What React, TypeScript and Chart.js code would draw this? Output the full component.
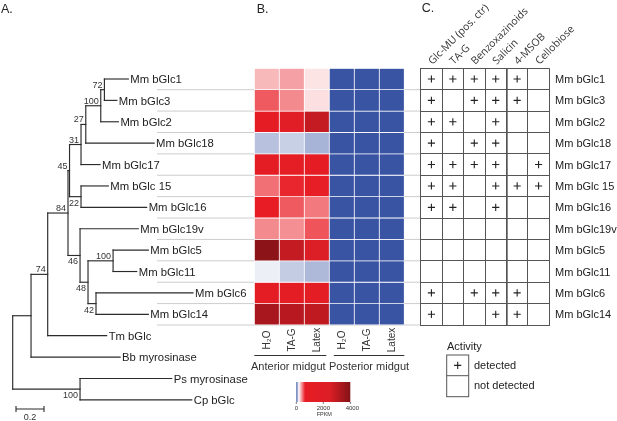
import React, { useEffect, useRef } from 'react';
import { Chart, registerables } from 'chart.js';
Chart.register(...registerables);

const W = 617;
const H = 421;
const FONT = "'Liberation Sans', Arial, sans-serif";
const HEAD_FONT = "'Open Sans', 'Liberation Sans', sans-serif";

// ---------------- data ----------------
const leafNames = ['Mm bGlc1', 'Mm bGlc3', 'Mm bGlc2', 'Mm bGlc18', 'Mm bGlc17', 'Mm bGlc 15', 'Mm bGlc16', 'Mm bGlc19v', 'Mm bGlc5', 'Mm bGlc11', 'Mm bGlc6', 'Mm bGlc14', 'Tm bGlc', 'Bb myrosinase', 'Ps myrosinase', 'Cp bGlc'];
const leafParents = ['N72', 'N72', 'N100a', 'N27', 'N31', 'N22', 'N22', 'N46', 'N100b', 'N100b', 'N42', 'N42', 'N74', 'NA', 'N100c', 'N100c'];
const leafBranches = [0.171, 0.089, 0.126, 0.488, 0.136, 0.195, 0.469, 0.416, 0.252, 0.169, 0.693, 0.374, 0.421, 0.636, 0.655, 0.798];

const nodeIds = ['root', 'NA', 'N74', 'N84', 'N45', 'N31', 'N27', 'N100a', 'N72', 'N22', 'N46', 'N48', 'N100b', 'N42', 'N100c'];
const nodeParents = ['', 'root', 'NA', 'N74', 'N84', 'N45', 'N31', 'N27', 'N100a', 'N45', 'N84', 'N46', 'N48', 'N48', 'root'];
const nodeBranches = [0, 0.131, 0.119, 0.145, 0.011, 0.082, 0.034, 0.107, 0.026, 0.082, 0.086, 0.057, 0.179, 0.057, 0.481];
const nodeSupport: (number | null)[] = [null, null, 74, 84, 45, 31, 27, 100, 72, 22, 46, 48, 100, 42, 100];
const supportBelow = [false, false, false, false, false, false, false, false, false, true, true, true, false, true, true];
const scaleBarValue = 0.2;
const scaleBarLabel = '0.2';

const conditions = ['H\u2082O', 'TA-G', 'Latex', 'H\u2082O', 'TA-G', 'Latex'];
const tissues = ['Anterior midgut', 'Posterior midgut'];
const heatRows = leafNames.slice(0, 12);
const fpkmAnterior = [
  [325, 376, 236],
  [522, 422, 244],
  [1100, 1700, 2900],
  [115, 130, 100],
  [1200, 1150, 1050],
  [476, 630, 645],
  [700, 522, 455],
  [422, 410, 534],
  [3833, 2900, 2450],
  [163, 126, 106],
  [1300, 1250, 1200],
  [3367, 3100, 2967],
];
const fpkmPosterior = [
  [0, 0, 0], [0, 0, 0], [0, 0, 0], [0, 0, 0], [0, 0, 0], [0, 0, 0],
  [0, 0, 0], [0, 0, 0], [0, 0, 0], [0, 0, 0], [0, 0, 0], [0, 0, 0],
];
const colorStops = [0, 180, 650, 2500, 4000];
const stopColors = [[58, 84, 164], [255, 255, 255], [232, 28, 36], [220, 30, 38], [130, 18, 22]];
const colorbarTicks = [0, 2000, 4000];
const colorbarUnit = 'FPKM';

const substrates = ['Glc-MU (pos. ctr)', 'TA-G', 'Benzoxazinoids', 'Salicin', '4-MSOB', 'Cellobiose'];
const activity = [
  [1, 1, 1, 1, 1, 0],
  [1, 0, 1, 1, 1, 0],
  [1, 1, 0, 1, 0, 0],
  [1, 0, 1, 1, 0, 0],
  [1, 1, 1, 1, 0, 1],
  [1, 1, 0, 1, 1, 1],
  [1, 1, 0, 1, 0, 0],
  [0, 0, 0, 0, 0, 0],
  [0, 0, 0, 0, 0, 0],
  [0, 0, 0, 0, 0, 0],
  [1, 0, 1, 1, 1, 0],
  [1, 0, 0, 1, 1, 0],
];
const legendTitle = 'Activity';
const legendItems = ['detected', 'not detected'];

// ---------------- layout ----------------
const ROW_TOP = 68.3;
const ROW_BOTTOM = 325;
const ROW_H = (ROW_BOTTOM - ROW_TOP) / heatRows.length;
const TREE_ROOT_PX = 12.7;
const TREE_PX_PER_UNIT = 140;
const HEAT_L = 254.3;
const HEAT_R = 404.3;
const TABLE_L = 420.7;
const TABLE_R = 549.3;
const SEP_L = 157;
const SEP_R = 421;

type P = { x: number; y: number };

function layoutTree() {
  const parent: Record<string, string> = {};
  const branch: Record<string, number> = {};
  const kids: Record<string, string[]> = {};
  nodeIds.forEach((id, i) => {
    kids[id] = [];
    parent[id] = nodeParents[i];
    branch[id] = nodeBranches[i];
  });
  leafNames.forEach((_, i) => {
    const id = 'leaf' + i;
    parent[id] = leafParents[i];
    branch[id] = leafBranches[i];
  });
  Object.keys(parent).forEach((id) => {
    if (parent[id]) kids[parent[id]].push(id);
  });
  const X: Record<string, number> = {};
  const Y: Record<string, number> = {};
  const getX = (id: string): number => {
    if (X[id] !== undefined) return X[id];
    X[id] = parent[id] ? getX(parent[id]) + branch[id] : 0;
    return X[id];
  };
  const getY = (id: string): number => {
    if (Y[id] !== undefined) return Y[id];
    if (id.startsWith('leaf')) {
      Y[id] = +id.slice(4) + 0.5;
      return Y[id];
    }
    const ys = kids[id].map(getY);
    Y[id] = (Math.min(...ys) + Math.max(...ys)) / 2;
    return Y[id];
  };
  Object.keys(parent).forEach((id) => {
    getX(id);
    getY(id);
  });
  const edges: P[][] = [];
  Object.keys(parent).forEach((id) => {
    if (parent[id]) edges.push([{ x: X[parent[id]], y: Y[id] }, { x: X[id], y: Y[id] }]);
    if (kids[id] && kids[id].length) {
      const ys = kids[id].map((k) => Y[k]);
      edges.push([{ x: X[id], y: Math.min(...ys) }, { x: X[id], y: Math.max(...ys) }]);
    }
  });
  return { X, Y, edges };
}

function fpkmColor(v: number): string {
  for (let i = 1; i < colorStops.length; i++) {
    if (v <= colorStops[i]) {
      const t = (v - colorStops[i - 1]) / (colorStops[i] - colorStops[i - 1]);
      const a = stopColors[i - 1];
      const b = stopColors[i];
      const c = a.map((av, k) => Math.round(av + (b[k] - av) * t));
      return `rgb(${c[0]},${c[1]},${c[2]})`;
    }
  }
  const l = stopColors[stopColors.length - 1];
  return `rgb(${l[0]},${l[1]},${l[2]})`;
}

const yMin = -ROW_TOP / ROW_H;
const yMax = (H - ROW_TOP) / ROW_H;
const txMin = -TREE_ROOT_PX / TREE_PX_PER_UNIT;
const txMax = (W - TREE_ROOT_PX) / TREE_PX_PER_UNIT;
const pxToTree = (px: number) => (px - TREE_ROOT_PX) / TREE_PX_PER_UNIT;

// ---------------- tree chart ----------------
function treeConfig(): any {
  const L = layoutTree();
  const datasets: any[] = [];
  L.edges.forEach((e) =>
    datasets.push({
      data: e,
      showLine: true,
      borderColor: '#2b2b2b',
      borderWidth: 1.15,
      borderCapStyle: 'square',
      pointRadius: 0,
      fill: false,
    })
  );
  for (let k = 1; k <= heatRows.length; k++) {
    datasets.push({
      data: [{ x: pxToTree(SEP_L), y: k }, { x: pxToTree(SEP_R), y: k }],
      showLine: true,
      borderColor: '#cdcdcd',
      borderWidth: 1,
      pointRadius: 0,
      fill: false,
    });
  }
  const plugin = {
    id: 'treeText',
    afterDraw(chart: any) {
      const ctx = chart.ctx;
      const xs = chart.scales.x;
      const ys = chart.scales.y;
      ctx.save();
      ctx.fillStyle = '#222';
      ctx.font = `12.5px ${FONT}`;
      ctx.textAlign = 'left';
      ctx.textBaseline = 'alphabetic';
      ctx.fillText('A.', 1, 13.3);
      ctx.font = `11.3px ${FONT}`;
      ctx.textBaseline = 'middle';
      leafNames.forEach((n, i) => {
        const id = 'leaf' + i;
        ctx.fillText(n, xs.getPixelForValue(L.X[id]) + 2, ys.getPixelForValue(L.Y[id]) + 1);
      });
      ctx.font = `9px ${FONT}`;
      ctx.fillStyle = '#333';
      ctx.textAlign = 'right';
      nodeIds.forEach((id, i) => {
        const s = nodeSupport[i];
        if (s == null) return;
        const px = xs.getPixelForValue(L.X[id]) - 2;
        const py = ys.getPixelForValue(L.Y[id]);
        if (supportBelow[i]) {
          ctx.textBaseline = 'top';
          ctx.fillText(String(s), px, py + 2);
        } else {
          ctx.textBaseline = 'alphabetic';
          ctx.fillText(String(s), px, py - 2);
        }
      });
      // scale bar
      const x0 = 16;
      const x1 = x0 + (xs.getPixelForValue(scaleBarValue) - xs.getPixelForValue(0));
      const yb = 409;
      ctx.strokeStyle = '#2b2b2b';
      ctx.lineWidth = 1.1;
      ctx.beginPath();
      ctx.moveTo(x0, yb);
      ctx.lineTo(x1, yb);
      ctx.moveTo(x0, yb - 3);
      ctx.lineTo(x0, yb + 3);
      ctx.moveTo(x1, yb - 3);
      ctx.lineTo(x1, yb + 3);
      ctx.stroke();
      ctx.textAlign = 'center';
      ctx.textBaseline = 'middle';
      ctx.fillText(scaleBarLabel, (x0 + x1) / 2, 418);
      ctx.restore();
    },
  };
  return {
    type: 'scatter',
    data: { datasets },
    options: {
      animation: false,
      responsive: false,
      events: [],
      layout: { padding: 0 },
      plugins: { legend: { display: false }, tooltip: { enabled: false } },
      scales: {
        x: { type: 'linear', min: txMin, max: txMax, display: false },
        y: { type: 'linear', min: yMin, max: yMax, reverse: true, display: false },
      },
    },
    plugins: [plugin],
  };
}

// ---------------- heatmap chart ----------------
function heatConfig(): any {
  const datasets = heatRows.map((name, r) => {
    const vals = [...fpkmAnterior[r], ...fpkmPosterior[r]];
    return {
      label: name,
      data: vals.map(() => 1),
      backgroundColor: vals.map(fpkmColor),
      borderColor: '#ffffff',
      borderWidth: 0.75,
      borderSkipped: false,
      barPercentage: 1,
      categoryPercentage: 1,
      stack: 'rows',
    };
  });
  const plugin = {
    id: 'heatText',
    afterDraw(chart: any) {
      const ctx = chart.ctx;
      const xs = chart.scales.x;
      const area = chart.chartArea;
      ctx.save();
      ctx.fillStyle = '#222';
      ctx.font = `12.5px ${FONT}`;
      ctx.textAlign = 'left';
      ctx.textBaseline = 'alphabetic';
      ctx.fillText('B.', 256.7, 12.7);
      // column labels
      ctx.font = `10px ${FONT}`;
      ctx.fillStyle = '#333';
      conditions.forEach((c, i) => {
        ctx.save();
        ctx.translate(xs.getPixelForValue(i), 340);
        ctx.rotate(-Math.PI / 2);
        ctx.textAlign = 'center';
        ctx.textBaseline = 'middle';
        ctx.fillText(c, 0, 0);
        ctx.restore();
      });
      // group lines + labels
      const mid = (xs.getPixelForValue(2) + xs.getPixelForValue(3)) / 2;
      const groups = [
        [area.left, mid - 3],
        [mid + 4.5, area.right],
      ];
      ctx.strokeStyle = '#333';
      ctx.lineWidth = 1;
      ctx.font = `11px ${FONT}`;
      ctx.textAlign = 'center';
      ctx.textBaseline = 'middle';
      groups.forEach((g, i) => {
        ctx.beginPath();
        ctx.moveTo(g[0], 355.5);
        ctx.lineTo(g[1], 355.5);
        ctx.stroke();
        ctx.fillText(tissues[i], (g[0] + g[1]) / 2 - (i === 0 ? 2 : 0), 366.5);
      });
      // colour bar
      const cbL = 296.3;
      const cbR = 350.3;
      const cbT = 382;
      const cbB = 402;
      const maxV = colorStops[colorStops.length - 1];
      const grad = ctx.createLinearGradient(cbL, 0, cbR, 0);
      colorStops.forEach((s: number) => grad.addColorStop(s / maxV, fpkmColor(s)));
      ctx.fillStyle = grad;
      ctx.fillRect(cbL, cbT, cbR - cbL, cbB - cbT);
      ctx.strokeStyle = '#555';
      ctx.lineWidth = 0.8;
      ctx.fillStyle = '#333';
      ctx.font = `6px ${FONT}`;
      colorbarTicks.forEach((t) => {
        const x = cbL + (t / maxV) * (cbR - cbL);
        ctx.beginPath();
        ctx.moveTo(x, cbB);
        ctx.lineTo(x, cbB + 2);
        ctx.stroke();
        ctx.fillText(String(t), x + (t === maxV ? 2 : 0), 408.5);
      });
      ctx.font = `5.5px ${FONT}`;
      ctx.fillText(colorbarUnit, (cbL + cbR) / 2 + 1, 414.3);
      ctx.restore();
    },
  };
  return {
    type: 'bar',
    data: { labels: conditions, datasets },
    options: {
      animation: false,
      responsive: false,
      events: [],
      layout: { padding: { left: HEAT_L, right: W - HEAT_R, top: ROW_TOP, bottom: H - ROW_BOTTOM } },
      plugins: { legend: { display: false }, tooltip: { enabled: false } },
      scales: {
        x: { type: 'category', display: false, stacked: true, offset: true },
        y: { type: 'linear', min: 0, max: heatRows.length, reverse: true, stacked: true, display: false },
      },
    },
    plugins: [plugin],
  };
}

// ---------------- table chart ----------------
function tableConfig(): any {
  const points: P[] = [];
  activity.forEach((row, r) =>
    row.forEach((v, c) => {
      if (v) points.push({ x: c + 0.5, y: r + 0.5 });
    })
  );
  const gridColor = '#555';
  const plugin = {
    id: 'tableText',
    afterDraw(chart: any) {
      const ctx = chart.ctx;
      const xs = chart.scales.x;
      const ys = chart.scales.y;
      ctx.save();
      ctx.fillStyle = '#222';
      ctx.font = `12.5px ${FONT}`;
      ctx.textAlign = 'left';
      ctx.textBaseline = 'alphabetic';
      ctx.fillText('C.', 421.7, 11.7);
      // headers
      ctx.font = `10.4px ${HEAD_FONT}`;
      ctx.fillStyle = '#333';
      substrates.forEach((s, c) => {
        ctx.save();
        ctx.translate(xs.getPixelForValue(c + 0.5) + 1, 65);
        ctx.rotate(-Math.PI / 4);
        ctx.textAlign = 'left';
        ctx.textBaseline = 'alphabetic';
        ctx.fillText(s, 0, 0);
        ctx.restore();
      });
      // row labels
      ctx.font = `11px ${FONT}`;
      ctx.fillStyle = '#222';
      ctx.textBaseline = 'middle';
      heatRows.forEach((n, r) => {
        ctx.fillText(n, 555, ys.getPixelForValue(r + 0.5) + 1);
      });
      // activity legend
      ctx.fillText(legendTitle, 447, 347);
      const bl = 446.7;
      const br = 468.7;
      const bt = 355;
      const bm = 375.7;
      const bb = 396.7;
      ctx.strokeStyle = gridColor;
      ctx.lineWidth = 1;
      ctx.strokeRect(bl, bt, br - bl, bb - bt);
      ctx.beginPath();
      ctx.moveTo(bl, bm);
      ctx.lineTo(br, bm);
      ctx.stroke();
      const cx = (bl + br) / 2;
      const cy = (bt + bm) / 2;
      ctx.strokeStyle = '#222';
      ctx.lineWidth = 1.1;
      ctx.beginPath();
      ctx.moveTo(cx - 3.6, cy);
      ctx.lineTo(cx + 3.6, cy);
      ctx.moveTo(cx, cy - 3.6);
      ctx.lineTo(cx, cy + 3.6);
      ctx.stroke();
      ctx.fillText(legendItems[0], 474, 365.7);
      ctx.fillText(legendItems[1], 474, 385.7);
      ctx.restore();
    },
  };
  const axisBase = {
    type: 'linear',
    ticks: { display: false, stepSize: 1 },
    grid: {
      color: gridColor,
      drawTicks: false,
      lineWidth: (c: any) => (c.tick && c.tick.value === 4 && c.scale.axis === 'x' ? 1.7 : 1),
    },
    border: { display: true, color: gridColor, width: 1 },
  };
  return {
    type: 'scatter',
    data: {
      datasets: [
        {
          data: points,
          pointStyle: 'cross',
          pointRadius: 3.6,
          borderColor: '#222',
          borderWidth: 1.1,
          showLine: false,
        },
      ],
    },
    options: {
      animation: false,
      responsive: false,
      events: [],
      layout: { padding: { left: TABLE_L, right: W - TABLE_R, top: ROW_TOP, bottom: H - ROW_BOTTOM } },
      plugins: { legend: { display: false }, tooltip: { enabled: false } },
      scales: {
        x: {
          ...axisBase,
          min: 0,
          max: substrates.length,
          position: 'bottom',
          afterFit: (s: any) => {
            s.height = 0;
          },
        },
        y: {
          ...axisBase,
          min: 0,
          max: heatRows.length,
          reverse: true,
          position: 'left',
          afterFit: (s: any) => {
            s.width = 0;
          },
        },
      },
    },
    plugins: [plugin],
  };
}

export default function App() {
  const treeRef = useRef<HTMLCanvasElement>(null);
  const heatRef = useRef<HTMLCanvasElement>(null);
  const tableRef = useRef<HTMLCanvasElement>(null);
  useEffect(() => {
    const charts = [
      new Chart(treeRef.current as HTMLCanvasElement, treeConfig()),
      new Chart(heatRef.current as HTMLCanvasElement, heatConfig()),
      new Chart(tableRef.current as HTMLCanvasElement, tableConfig()),
    ];
    return () => charts.forEach((c) => c.destroy());
  }, []);
  const st: React.CSSProperties = { position: 'absolute', left: 0, top: 0, width: W, height: H };
  return (
    <div style={{ position: 'absolute', left: 0, top: 0, width: W, height: H, background: '#fff' }}>
      <canvas ref={treeRef} width={W} height={H} style={st} />
      <canvas ref={heatRef} width={W} height={H} style={st} />
      <canvas ref={tableRef} width={W} height={H} style={st} />
    </div>
  );
}
